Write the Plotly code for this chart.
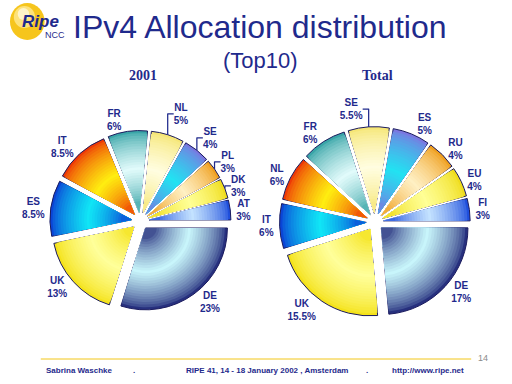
import plotly.graph_objects as go

W, H = 512, 384

# ---- data ----
labels_2001 = ["DE", "UK", "ES", "IT", "FR", "NL", "SE", "PL", "DK", "AT"]
values_2001 = [23, 13, 8.5, 8.5, 6, 5, 4, 3, 3, 3]
labels_total = ["DE", "UK", "IT", "NL", "FR", "SE", "ES", "RU", "EU", "FI"]
values_total = [17, 15.5, 6, 6, 6, 5.5, 5, 4, 4, 3]

# slice colours by position: (edge colour, centre colour)
edge_cols = ["#27307e", "#f4e21a", "#0b45d6", "#ee3a06", "#3aa5a8",
             "#f6e676", "#7a78e0", "#ef9f1e", "#efdc1c", "#1f4fdc"]
centre_cols = ["#c9f6fb", "#ffff9a", "#10e6f6", "#ffee10", "#e2fbfb",
               "#fffde0", "#22e2f2", "#fff0c4", "#ffff96", "#c4e2ff"]

NAVY = "#1f2a8c"


def hex2rgb(h):
    h = h.lstrip("#")
    return tuple(int(h[i:i + 2], 16) for i in (0, 2, 4))


def mix(a, b, t):
    ra, rb = hex2rgb(a), hex2rgb(b)
    return "rgb(%d,%d,%d)" % tuple(round(x + (y - x) * t) for x, y in zip(ra, rb))


fig = go.Figure()


def add_pie(cx, cy, R, d, labels, values):
    # concentric layers to imitate the shaded slices
    ks = [1.0 - 0.032 * i for i in range(28)]
    for i, k in enumerate(ks):
        t = max(0.0, 1 - abs(k - 0.55) / 0.45) ** 0.7
        r = k * R
        pull = min(1.0, d / r)
        h = r * (1 + pull)
        cols = [mix(e, c, t) for e, c in zip(edge_cols, centre_cols)]
        outer = i == 0
        fig.add_trace(go.Pie(
            labels=labels, values=values, sort=False, direction="clockwise",
            rotation=90, pull=[pull] * len(values),
            domain=dict(x=[(cx - h) / W, (cx + h) / W],
                        y=[1 - (cy + h) / H, 1 - (cy - h) / H]),
            marker=dict(colors=cols,
                        line=dict(color="#1b1b5e" if outer else "rgba(0,0,0,0)",
                                  width=1 if outer else 0)),
            textinfo="none" if not outer else None,
            texttemplate="<b>%{label}<br>%{value}%</b>" if outer else None,
            textposition="outside" if outer else "none",
            outsidetextfont=dict(family="Arial, Liberation Sans", size=10, color=NAVY),
            hoverinfo="skip", showlegend=False,
        ))


add_pie(136.5, 221, 85, 9, labels_2001, values_2001)
add_pie(380, 222, 90, 9, labels_total, values_total)

ann = []


def txt(x, y, s, size, color=NAVY, family="Arial, Liberation Sans", xanchor="center"):
    ann.append(dict(x=x / W, y=1 - y / H, xref="paper", yref="paper", text=s,
                    showarrow=False, xanchor=xanchor, yanchor="middle",
                    font=dict(size=size, color=color, family=family)))


txt(261, 27, "IPv4 Allocation distribution", 32)
txt(261, 61, "(Top10)", 22)
txt(139, 75, "<b>2001</b>", 14, family="Liberation Serif, Times New Roman")
txt(383, 75, "<b>Total</b>", 14, family="Liberation Serif, Times New Roman")
txt(33, 22, "<b><i>Ripe</i></b>", 17, xanchor="center")
txt(48, 35, "NCC", 9, xanchor="center")
txt(36, 370, "<b>Sabrina Waschke</b>", 8, xanchor="left")
txt(130, 370, "<b>.</b>", 8)
txt(182, 370, "<b>RIPE 41, 14 - 18 January 2002 , Amsterdam</b>", 8, xanchor="left")
txt(372, 370, "<b>.</b>", 8)
txt(475, 370, "<b>http://www.ripe.net</b>", 8, xanchor="right")
txt(492, 358, "14", 9, color="#8a8a8a")

shapes = [
    dict(type="circle", xref="paper", yref="paper",
         x0=1 / W, x1=37 / W, y0=1 - 40 / H, y1=1 - 3 / H,
         fillcolor="#f6c51c", line=dict(width=0), layer="below"),
    dict(type="circle", xref="paper", yref="paper",
         x0=5 / W, x1=27 / W, y0=1 - 28 / H, y1=1 - 6 / H,
         fillcolor="#fde27a", line=dict(width=0), layer="below"),
    dict(type="circle", xref="paper", yref="paper",
         x0=9 / W, x1=21 / W, y0=1 - 20 / H, y1=1 - 8 / H,
         fillcolor="#fff4c8", line=dict(width=0), layer="below"),
    dict(type="line", xref="paper", yref="paper",
         x0=33 / W, x1=480 / W, y0=1 - 359 / H, y1=1 - 359 / H,
         line=dict(color="#f2c618", width=1)),
]

fig.update_layout(width=W, height=H, margin=dict(l=0, r=0, t=0, b=0),
                  paper_bgcolor="white", plot_bgcolor="white",
                  annotations=ann, shapes=shapes)

fig.write_html("out.html", config={"displayModeBar": False},
               post_script="document.body.style.margin='0';")
